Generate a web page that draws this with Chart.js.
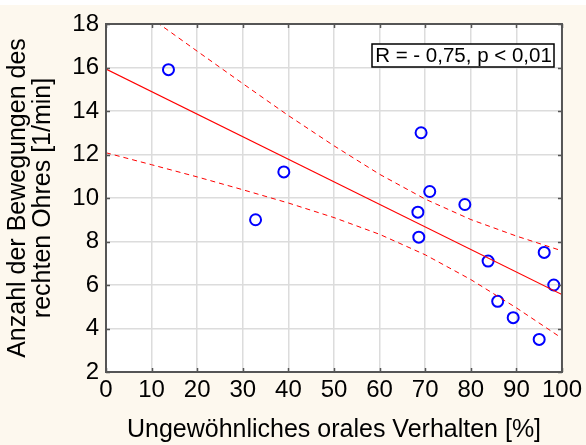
<!DOCTYPE html>
<html>
<head>
<meta charset="utf-8">
<script src="https://cdn.jsdelivr.net/npm/chart.js@4"></script>
<style>
  html, body { margin: 0; padding: 0; background: #fff; }
  #wrap { width: 586px; height: 445px; }
</style>
</head>
<body>
<div id="wrap"><canvas id="chart" width="586" height="445"></canvas></div>
<script>
// points
const xVals = [13.7, 39.0, 32.8, 69.1, 71.0, 78.7, 68.4, 68.6, 83.8, 96.1, 98.2, 85.9, 89.3, 95.0];
const yVals = [15.9, 11.2, 9.0, 13.0, 10.3, 9.7, 9.35, 8.2, 7.1, 7.5, 6.0, 5.25, 4.5, 3.5];

// regression line
const fitX = [0, 100];
const fitY = [15.93, 5.56];

// confidence band, read at the grid lines
const bandX = [0, 10, 20, 30, 40, 50, 60, 70, 80, 90, 100];
const upperY = [19.8, 18.25, 16.75, 15.26, 13.79, 12.4, 11.09, 9.95, 9.01, 8.25, 7.57];
const lowerY = [12.08, 11.53, 10.97, 10.38, 9.77, 9.1, 8.33, 7.39, 6.25, 4.95, 3.55];

const xTicks = [0, 10, 20, 30, 40, 50, 60, 70, 80, 90, 100];
const yTicks = [2, 4, 6, 8, 10, 12, 14, 16, 18];

const statText = "R = - 0,75, p < 0,01";
const FONT = "'Liberation Sans', Arial, sans-serif";

const toXY = (xs, ys) => xs.map((x, i) => ({ x: x, y: ys[i] }));

const frame = {
  id: "frame",
  beforeDraw(chart) {
    const { ctx, chartArea: a } = chart;
    ctx.save();
    ctx.fillStyle = "#fdf8ee";
    ctx.fillRect(0, 5, chart.width, chart.height - 5);
    ctx.fillStyle = "#fff";
    ctx.fillRect(a.left, a.top, a.right - a.left, a.bottom - a.top);
    ctx.restore();
  },
  afterDraw(chart) {
    const { ctx, chartArea: a, scales } = chart;
    ctx.save();
    ctx.strokeStyle = "#555";
    ctx.lineWidth = 1.5;
    ctx.beginPath();
    xTicks.forEach(v => {
      const px = Math.round(scales.x.getPixelForValue(v)) + 0.5;
      ctx.moveTo(px, a.top); ctx.lineTo(px, a.top + 4);
      ctx.moveTo(px, a.bottom); ctx.lineTo(px, a.bottom - 4);
    });
    yTicks.forEach(v => {
      const py = Math.round(scales.y.getPixelForValue(v)) + 0.5;
      ctx.moveTo(a.left, py); ctx.lineTo(a.left + 4, py);
      ctx.moveTo(a.right, py); ctx.lineTo(a.right - 4, py);
    });
    ctx.stroke();
    ctx.lineWidth = 2;
    ctx.strokeRect(a.left, a.top, a.right - a.left, a.bottom - a.top);

    // stats box
    ctx.font = "20.5px " + FONT;
    ctx.fillStyle = "#fff";
    ctx.fillRect(372, 44, 182, 23);
    ctx.strokeStyle = "#000";
    ctx.lineWidth = 1.5;
    ctx.strokeRect(372, 44, 182, 23);
    ctx.fillStyle = "#000";
    ctx.textAlign = "center";
    ctx.textBaseline = "middle";
    ctx.fillText(statText, 463.5, 56.5);
    ctx.restore();
  }
};

new Chart(document.getElementById("chart"), {
  type: "scatter",
  data: {
    datasets: [
      {
        data: toXY(fitX, fitY),
        showLine: true,
        borderColor: "#ff0000",
        borderWidth: 1.2,
        pointRadius: 0
      },
      {
        data: toXY(bandX, upperY),
        showLine: true,
        borderColor: "#ff0000",
        borderWidth: 1,
        borderDash: [5, 4],
        pointRadius: 0
      },
      {
        data: toXY(bandX, lowerY),
        showLine: true,
        borderColor: "#ff0000",
        borderWidth: 1,
        borderDash: [5, 4],
        pointRadius: 0
      },
      {
        data: toXY(xVals, yVals),
        pointRadius: 5.5,
        pointBorderWidth: 2,
        pointBorderColor: "#0000ff",
        pointBackgroundColor: "rgba(0,0,0,0)"
      }
    ]
  },
  options: {
    responsive: false,
    animation: false,
    layout: { padding: { top: 24, right: 23, left: 0, bottom: 0 } },
    plugins: { legend: { display: false }, tooltip: { enabled: false } },
    scales: {
      x: {
        type: "linear",
        min: 0,
        max: 100,
        afterBuildTicks: s => { s.ticks = xTicks.map(v => ({ value: v })); },
        afterFit: s => { s.height = 73; },
        ticks: { color: "#000", font: { family: FONT, size: 24 }, padding: 4, maxRotation: 0 },
        grid: { color: "#dcdcdc", lineWidth: 1.5, drawTicks: false },
        border: { display: false },
        title: {
          display: true,
          text: "Ungewöhnliches orales Verhalten [%]",
          color: "#000",
          font: { family: FONT, size: 25 },
          padding: { top: 6, bottom: 0 }
        }
      },
      y: {
        type: "linear",
        min: 2,
        max: 18,
        afterBuildTicks: s => { s.ticks = yTicks.map(v => ({ value: v })); },
        afterFit: s => { s.width = 106; },
        ticks: { color: "#000", font: { family: FONT, size: 24 }, padding: 7 },
        grid: { color: "#dcdcdc", lineWidth: 1.5, drawTicks: false },
        border: { display: false },
        title: {
          display: true,
          text: ["Anzahl der Bewegungen des", "rechten Ohres [1/min]"],
          color: "#000",
          font: { family: FONT, size: 25, lineHeight: 1.0 },
          padding: { top: 6, bottom: 0 }
        }
      }
    }
  },
  plugins: [frame]
});
</script>
</body>
</html>
